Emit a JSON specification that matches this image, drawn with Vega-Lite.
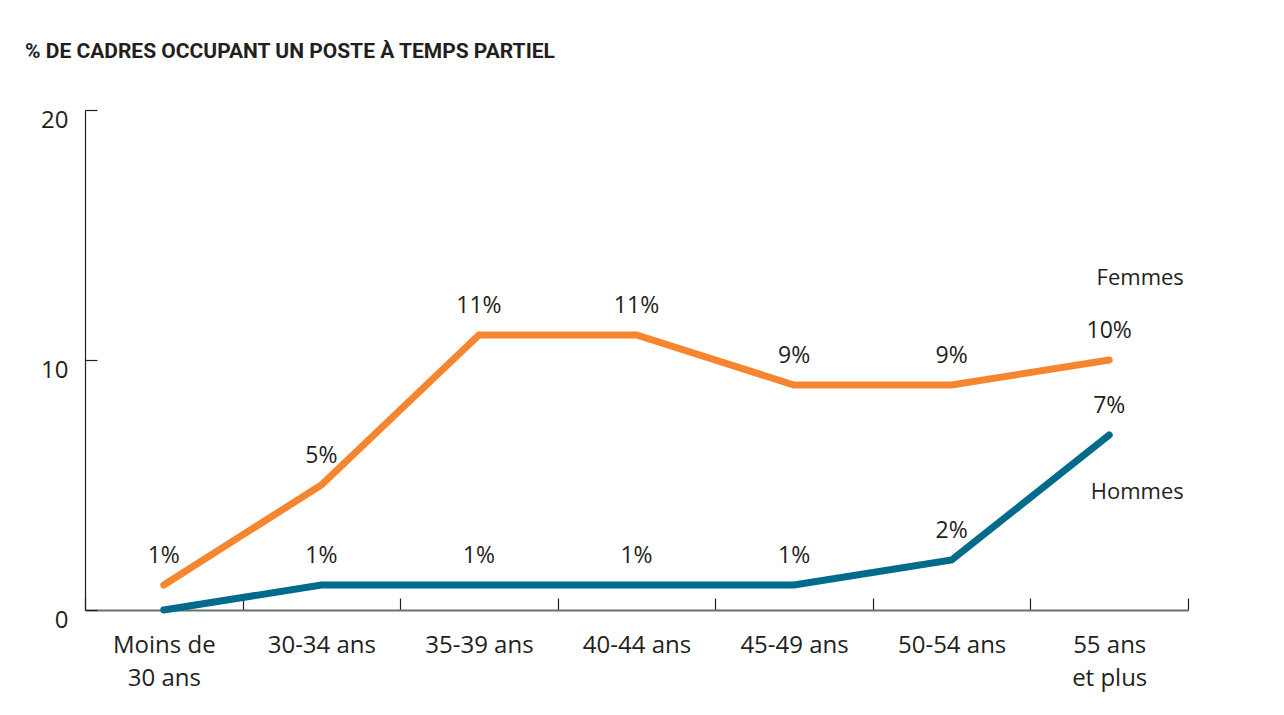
{
  "$schema": "https://vega.github.io/schema/vega-lite/v6.json",
  "width": 1103,
  "height": 500,
  "autosize": {"type": "none"},
  "padding": {"left": 85, "top": 110, "right": 96, "bottom": 105},
  "background": "white",
  "title": {
    "text": "% DE CADRES OCCUPANT UN POSTE À TEMPS PARTIEL",
    "anchor": "start",
    "frame": "group",
    "orient": "top",
    "baseline": "alphabetic",
    "offset": 29,
    "dx": -60,
    "font": "Roboto",
    "fontSize": 21,
    "fontWeight": "bold",
    "color": "#231f20"
  },
  "config": {
    "view": {"stroke": null},
    "font": "Open Sans"
  },
  "data": {
    "values": [
      {"age": "Moins de 30 ans", "sexe": "Femmes", "pct": 1, "lbl": "1%"},
      {"age": "30-34 ans", "sexe": "Femmes", "pct": 5, "lbl": "5%"},
      {"age": "35-39 ans", "sexe": "Femmes", "pct": 11, "lbl": "11%"},
      {"age": "40-44 ans", "sexe": "Femmes", "pct": 11, "lbl": "11%"},
      {"age": "45-49 ans", "sexe": "Femmes", "pct": 9, "lbl": "9%"},
      {"age": "50-54 ans", "sexe": "Femmes", "pct": 9, "lbl": "9%"},
      {"age": "55 ans et plus", "sexe": "Femmes", "pct": 10, "lbl": "10%"},
      {"age": "Moins de 30 ans", "sexe": "Hommes", "pct": 0, "lbl": ""},
      {"age": "30-34 ans", "sexe": "Hommes", "pct": 1, "lbl": "1%"},
      {"age": "35-39 ans", "sexe": "Hommes", "pct": 1, "lbl": "1%"},
      {"age": "40-44 ans", "sexe": "Hommes", "pct": 1, "lbl": "1%"},
      {"age": "45-49 ans", "sexe": "Hommes", "pct": 1, "lbl": "1%"},
      {"age": "50-54 ans", "sexe": "Hommes", "pct": 2, "lbl": "2%"},
      {"age": "55 ans et plus", "sexe": "Hommes", "pct": 7, "lbl": "7%"}
    ]
  },
  "encoding": {
    "x": {
      "field": "age",
      "type": "nominal",
      "sort": null,
      "scale": {"paddingInner": 0, "paddingOuter": 0},
      "axis": {
        "title": null,
        "labelAngle": 0,
        "labelFont": "Open Sans",
        "labelFontSize": 24,
        "labelColor": "#231f20",
        "labelPadding": 35,
        "labelLineHeight": 33,
        "labelBaseline": "top",
        "labelExpr": "datum.label == 'Moins de 30 ans' ? ['Moins de', '30 ans'] : datum.label == '55 ans et plus' ? ['55 ans', 'et plus'] : datum.label",
        "domainColor": "#6d6e71",
        "domainWidth": 2,
        "tickColor": "#231f20",
        "tickSize": -12,
        "tickWidth": 1.2,
        "tickBand": "extent",
        "grid": false
      }
    },
    "y": {
      "field": "pct",
      "type": "quantitative",
      "scale": {"domain": [0, 20], "nice": false},
      "axis": {
        "title": null,
        "values": [0, 10, 20],
        "labelFont": "Open Sans",
        "labelFontSize": 24,
        "labelColor": "#231f20",
        "labelPadding": 29,
        "labelOffset": 10,
        "domainColor": "#231f20",
        "domainWidth": 1.2,
        "tickColor": "#231f20",
        "tickSize": -12,
        "tickWidth": 1.2,
        "grid": false
      }
    }
  },
  "layer": [
    {
      "mark": {"type": "line", "strokeWidth": 7, "strokeCap": "round", "strokeJoin": "miter"},
      "encoding": {
        "color": {
          "field": "sexe",
          "type": "nominal",
          "scale": {"domain": ["Femmes", "Hommes"], "range": ["#f5862f", "#006b8a"]},
          "legend": null
        }
      }
    },
    {
      "mark": {"type": "text", "dy": -29, "fontSize": 23, "font": "Open Sans", "color": "#231f20"},
      "encoding": {"text": {"field": "lbl"}}
    },
    {
      "transform": [{"filter": "datum.sexe == 'Femmes' && datum.age == '55 ans et plus'"}],
      "mark": {"type": "text", "dy": -82, "dx": 31, "fontSize": 22, "font": "Open Sans", "color": "#231f20"},
      "encoding": {"text": {"field": "sexe"}}
    },
    {
      "transform": [{"filter": "datum.sexe == 'Hommes' && datum.age == '55 ans et plus'"}],
      "mark": {"type": "text", "dy": 57, "dx": 28, "fontSize": 22, "font": "Open Sans", "color": "#231f20"},
      "encoding": {"text": {"field": "sexe"}}
    }
  ]
}
